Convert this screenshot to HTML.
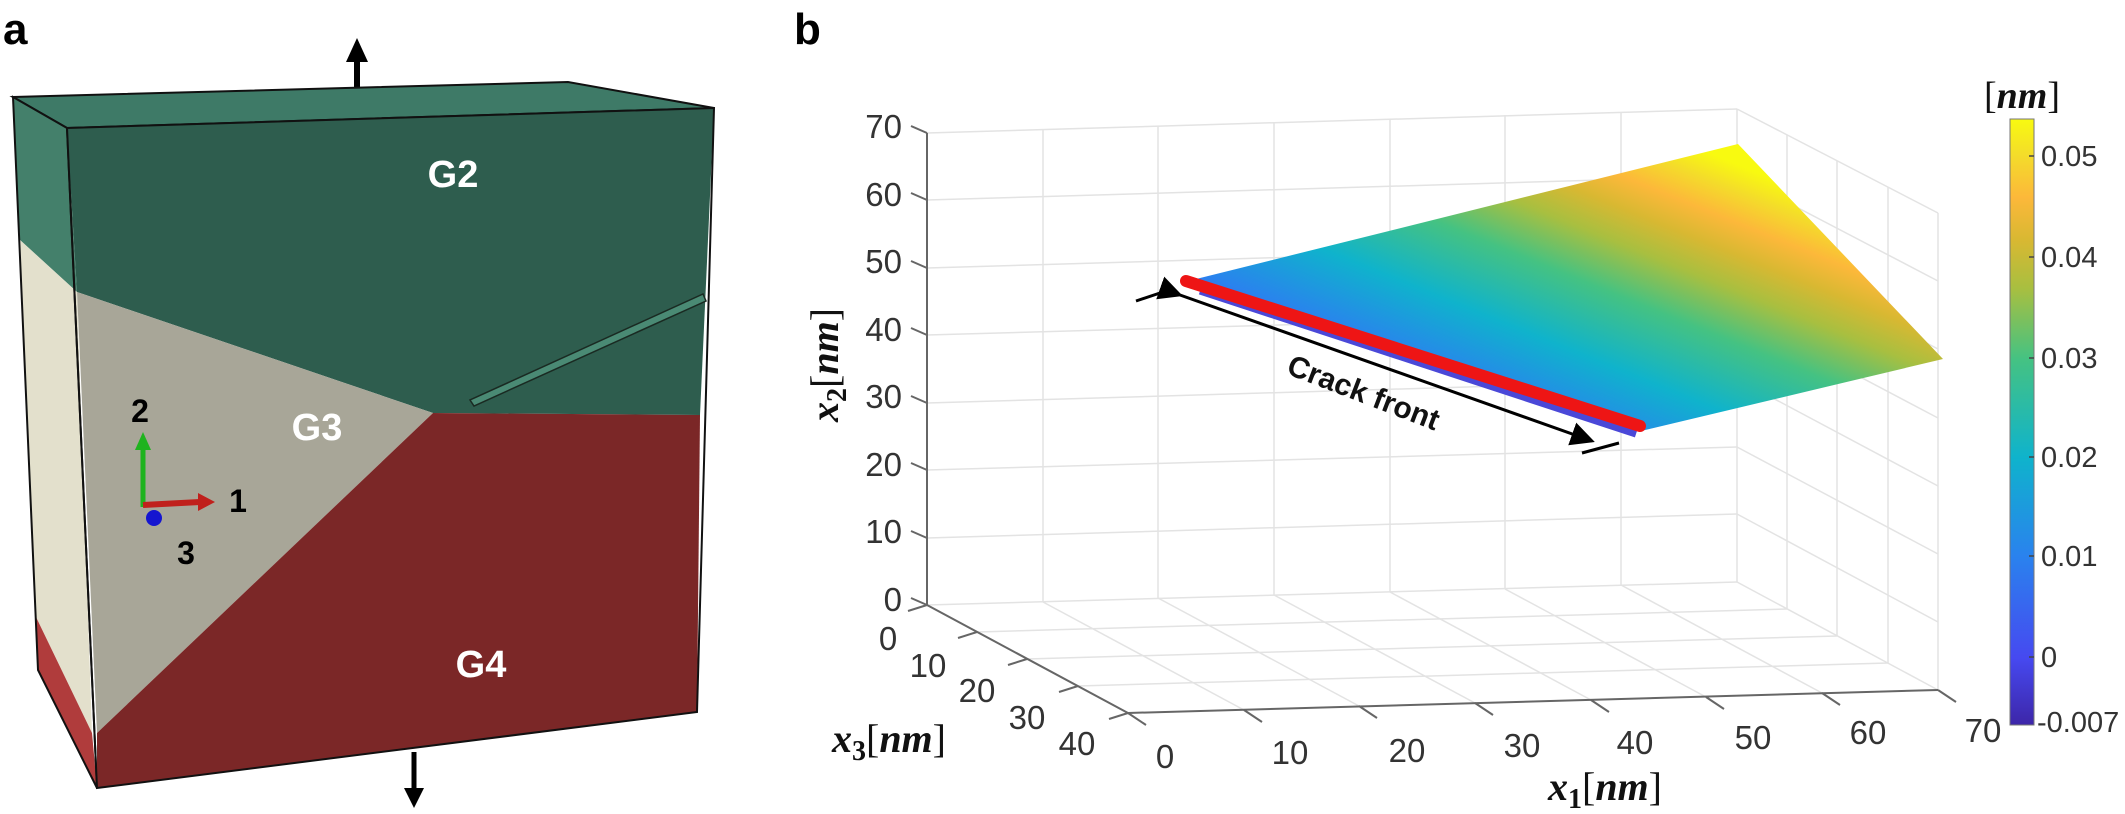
<!DOCTYPE html>
<html><head><meta charset="utf-8"><style>
html,body{margin:0;padding:0;background:#fff;}
svg{display:block;}
.t{font-family:"Liberation Sans",sans-serif;fill:#333;font-size:33px;}
.c{font-family:"Liberation Sans",sans-serif;fill:#333;font-size:29px;}
.m{font-family:"Liberation Serif",serif;font-weight:bold;fill:#111;}
</style></head><body>
<svg width="2125" height="814" viewBox="0 0 2125 814" xmlns="http://www.w3.org/2000/svg">
<defs>
<linearGradient id="par" x1="0" y1="1" x2="0" y2="0">
<stop offset="0" stop-color="#3d26a8"/><stop offset="0.11" stop-color="#4649f0"/><stop offset="0.278" stop-color="#2a82ee"/><stop offset="0.441" stop-color="#0fb3cc"/><stop offset="0.605" stop-color="#45c282"/><stop offset="0.72" stop-color="#a8bf40"/><stop offset="0.8" stop-color="#d8b832"/><stop offset="0.87" stop-color="#fcb83a"/><stop offset="0.94" stop-color="#f4dc2a"/><stop offset="1" stop-color="#f8fa10"/>
</linearGradient>
<linearGradient id="surf" gradientUnits="userSpaceOnUse" x1="1145" y1="377" x2="1303" y2="-12">
<stop offset="0" stop-color="#3d26a8"/><stop offset="0.11" stop-color="#4649f0"/><stop offset="0.278" stop-color="#2a82ee"/><stop offset="0.441" stop-color="#0fb3cc"/><stop offset="0.605" stop-color="#45c282"/><stop offset="0.72" stop-color="#a8bf40"/><stop offset="0.8" stop-color="#d8b832"/><stop offset="0.87" stop-color="#fcb83a"/><stop offset="0.94" stop-color="#f4dc2a"/><stop offset="1" stop-color="#f8fa10"/>
</linearGradient>
<marker id="ah" markerWidth="8" markerHeight="8" refX="7" refY="4" orient="auto" markerUnits="strokeWidth"><path d="M0,0 L8,4 L0,8 z" fill="#000"/></marker>
</defs>

<!-- Panel a -->
<text x="3" y="44" style="font-family:'Liberation Sans',sans-serif;font-weight:bold;font-size:44px;">a</text>
<line x1="357" y1="60" x2="357" y2="97" stroke="#000" stroke-width="6"/>
<polygon points="346,62 368,62 357,38" fill="#000"/>
<polygon points="13,97 568,82 714,108 67,128" fill="#3e7a67" stroke="#111" stroke-width="2"/>
<polygon points="13,97 67,128 77,292 20,240" fill="#44806b"/>
<polygon points="20,240 77,292 92,733 36,617" fill="#e3e0cc"/>
<polygon points="36,617 92,733 97,788 38,670" fill="#b03c3c"/>
<polygon points="13,97 67,128 97,788 38,670" fill="none" stroke="#111" stroke-width="2"/>
<polygon points="67,128 714,108 700,415 433,413 77,292" fill="#2e5d4e"/>
<polygon points="77,292 433,413 97,733" fill="#a8a698"/>
<polygon points="433,413 700,415 697,712 97,788 97,733" fill="#7b2727"/>
<polygon points="67,128 714,108 697,712 97,788" fill="none" stroke="#111" stroke-width="2"/>
<polygon points="703,294 706,301 474,406 470,400" fill="#4a8a74" stroke="#1a2a22" stroke-width="1.5"/>
<text x="453" y="187" text-anchor="middle" style="font-family:'Liberation Sans',sans-serif;font-weight:bold;font-size:38px;fill:#fff;">G2</text>
<text x="317" y="440" text-anchor="middle" style="font-family:'Liberation Sans',sans-serif;font-weight:bold;font-size:38px;fill:#fff;">G3</text>
<text x="481" y="677" text-anchor="middle" style="font-family:'Liberation Sans',sans-serif;font-weight:bold;font-size:38px;fill:#fff;">G4</text>
<line x1="143" y1="507" x2="143" y2="448" stroke="#1fb31f" stroke-width="5"/>
<polygon points="135,450 151,450 143,432" fill="#1fb31f"/>
<line x1="143" y1="505" x2="200" y2="502" stroke="#c0201c" stroke-width="6"/>
<polygon points="198,493 198,511 215,502" fill="#c0201c"/>
<circle cx="154" cy="518" r="8" fill="#1515d0"/>
<text x="140" y="422" text-anchor="middle" style="font-family:'Liberation Sans',sans-serif;font-weight:bold;font-size:32px;">2</text>
<text x="238" y="512" text-anchor="middle" style="font-family:'Liberation Sans',sans-serif;font-weight:bold;font-size:32px;">1</text>
<text x="186" y="564" text-anchor="middle" style="font-family:'Liberation Sans',sans-serif;font-weight:bold;font-size:32px;">3</text>
<line x1="414" y1="752" x2="414" y2="790" stroke="#000" stroke-width="5"/>
<polygon points="404,788 424,788 414,808" fill="#000"/>

<!-- Panel b -->
<text x="794" y="44" style="font-family:'Liberation Sans',sans-serif;font-weight:bold;font-size:44px;">b</text>
<g stroke="#e3e3e3" stroke-width="1.5" fill="none">
<line x1="927" y1="605" x2="1737" y2="582"/><line x1="927" y1="538" x2="1737" y2="514"/><line x1="927" y1="470" x2="1737" y2="447"/><line x1="927" y1="403" x2="1737" y2="379"/><line x1="927" y1="335" x2="1737" y2="312"/><line x1="927" y1="268" x2="1737" y2="244"/><line x1="927" y1="200" x2="1737" y2="176"/><line x1="927" y1="133" x2="1737" y2="109"/>
<line x1="1043" y1="129" x2="1043" y2="602"/><line x1="1158" y1="126" x2="1158" y2="598"/><line x1="1274" y1="122" x2="1274" y2="595"/><line x1="1390" y1="119" x2="1390" y2="592"/><line x1="1505" y1="115" x2="1505" y2="589"/><line x1="1621" y1="112" x2="1621" y2="585"/><line x1="1737" y1="109" x2="1737" y2="582"/>
<line x1="1737" y1="109" x2="1938" y2="213"/><line x1="1737" y1="176" x2="1938" y2="281"/><line x1="1737" y1="244" x2="1938" y2="349"/><line x1="1737" y1="312" x2="1938" y2="418"/><line x1="1737" y1="379" x2="1938" y2="486"/><line x1="1737" y1="447" x2="1938" y2="554"/><line x1="1737" y1="514" x2="1938" y2="622"/><line x1="1737" y1="582" x2="1938" y2="690"/>
<line x1="1787" y1="135" x2="1787" y2="609"/><line x1="1837" y1="161" x2="1837" y2="636"/><line x1="1888" y1="187" x2="1888" y2="663"/><line x1="1938" y1="213" x2="1938" y2="690"/>
<line x1="1043" y1="602" x2="1244" y2="710"/><line x1="1158" y1="598" x2="1359" y2="706"/><line x1="1274" y1="595" x2="1475" y2="703"/><line x1="1390" y1="592" x2="1591" y2="700"/><line x1="1505" y1="589" x2="1706" y2="697"/><line x1="1621" y1="585" x2="1822" y2="693"/>
<line x1="977" y1="632" x2="1787" y2="609"/><line x1="1027" y1="659" x2="1837" y2="636"/><line x1="1078" y1="686" x2="1888" y2="663"/>
</g>
<g stroke="#666" stroke-width="2" fill="none">
<line x1="927" y1="133" x2="927" y2="605"/>
<line x1="927" y1="605" x2="1128" y2="713"/>
<line x1="1128" y1="713" x2="1938" y2="690"/>
<line x1="911" y1="126" x2="927" y2="133"/><line x1="911" y1="193" x2="927" y2="200"/><line x1="911" y1="261" x2="927" y2="268"/><line x1="911" y1="328" x2="927" y2="335"/><line x1="911" y1="396" x2="927" y2="403"/><line x1="911" y1="463" x2="927" y2="470"/><line x1="911" y1="531" x2="927" y2="538"/><line x1="911" y1="598" x2="927" y2="605"/>
<line x1="908" y1="611" x2="927" y2="605"/><line x1="958" y1="638" x2="977" y2="632"/><line x1="1008" y1="665" x2="1027" y2="659"/><line x1="1059" y1="692" x2="1078" y2="686"/><line x1="1109" y1="719" x2="1128" y2="713"/>
<line x1="1128" y1="713" x2="1146" y2="725"/><line x1="1244" y1="710" x2="1262" y2="722"/><line x1="1359" y1="706" x2="1377" y2="718"/><line x1="1475" y1="703" x2="1493" y2="715"/><line x1="1591" y1="700" x2="1609" y2="712"/><line x1="1706" y1="697" x2="1724" y2="709"/><line x1="1822" y1="693" x2="1840" y2="705"/><line x1="1938" y1="690" x2="1956" y2="702"/>
</g>
<g class="t" text-anchor="end">
<text x="902" y="138">70</text><text x="902" y="206">60</text><text x="902" y="273">50</text><text x="902" y="341">40</text><text x="902" y="408">30</text><text x="902" y="476">20</text><text x="902" y="543">10</text><text x="902" y="611">0</text>
</g>
<g class="t" text-anchor="middle">
<text x="888" y="650">0</text><text x="928" y="677">10</text><text x="977" y="702">20</text><text x="1027" y="729">30</text><text x="1077" y="755">40</text>
<text x="1165" y="768">0</text><text x="1290" y="764">10</text><text x="1407" y="762">20</text><text x="1522" y="757">30</text><text x="1635" y="754">40</text><text x="1753" y="749">50</text><text x="1868" y="744">60</text><text x="1983" y="742">70</text>
</g>
<text class="m" transform="translate(838,365) rotate(-90)" text-anchor="middle" font-size="40"><tspan font-style="italic">x</tspan><tspan font-size="28" dy="8">2</tspan><tspan dy="-8" font-weight="normal">[</tspan><tspan font-style="italic">nm</tspan><tspan font-weight="normal">]</tspan></text>
<text class="m" x="889" y="752" text-anchor="middle" font-size="40"><tspan font-style="italic">x</tspan><tspan font-size="28" dy="8">3</tspan><tspan dy="-8" font-weight="normal">[</tspan><tspan font-style="italic">nm</tspan><tspan font-weight="normal">]</tspan></text>
<text class="m" x="1605" y="800" text-anchor="middle" font-size="40"><tspan font-style="italic">x</tspan><tspan font-size="28" dy="8">1</tspan><tspan dy="-8" font-weight="normal">[</tspan><tspan font-style="italic">nm</tspan><tspan font-weight="normal">]</tspan></text>

<polygon points="1184,282 1738,144 1943,359 1641,431" fill="url(#surf)"/>
<line x1="1200" y1="291" x2="1636" y2="434" stroke="#4a48d8" stroke-width="7"/>
<line x1="1186" y1="281" x2="1640" y2="426" stroke="#ee1515" stroke-width="12" stroke-linecap="round"/>
<line x1="1180" y1="295" x2="1592" y2="441" stroke="#000" stroke-width="3" marker-start="url(#ah)" marker-end="url(#ah)"/>
<line x1="1136" y1="301" x2="1172" y2="289" stroke="#000" stroke-width="3"/>
<line x1="1582" y1="453" x2="1619" y2="443" stroke="#000" stroke-width="3"/>
<text x="0" y="0" transform="translate(1360,402) rotate(21)" text-anchor="middle" style="font-family:'Liberation Sans',sans-serif;font-weight:bold;font-size:30px;fill:#111;">Crack front</text>

<rect x="2010" y="119" width="24" height="606" fill="url(#par)" stroke="#777" stroke-width="1"/>
<g stroke="#444" stroke-width="1.5">
<line x1="2029" y1="156" x2="2034" y2="156"/><line x1="2029" y1="257" x2="2034" y2="257"/><line x1="2029" y1="358" x2="2034" y2="358"/><line x1="2029" y1="457" x2="2034" y2="457"/><line x1="2029" y1="556" x2="2034" y2="556"/><line x1="2029" y1="657" x2="2034" y2="657"/>
</g>
<g class="c">
<text x="2041" y="166">0.05</text><text x="2041" y="267">0.04</text><text x="2041" y="368">0.03</text><text x="2041" y="467">0.02</text><text x="2041" y="566">0.01</text><text x="2041" y="667">0</text><text x="2037" y="732">-0.007</text>
</g>
<text class="m" x="2022" y="108" text-anchor="middle" font-size="38"><tspan font-weight="normal">[</tspan><tspan font-style="italic">nm</tspan><tspan font-weight="normal">]</tspan></text>
</svg>
</body></html>
